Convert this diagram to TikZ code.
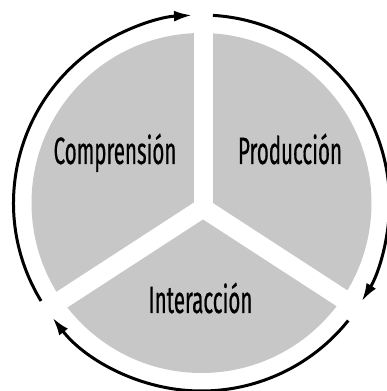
\documentclass[tikz,border=0pt]{standalone}
\usepackage{fontspec}
\setmainfont[FakeStretch=0.54,FakeBold=0.5]{Fira Sans}
\usetikzlibrary{arrows.meta}

\begin{document}
\begin{tikzpicture}[x=1pt,y=1pt]
\tikzstyle{sector}=[fill=black!22]
\tikzstyle{gap}=[white, line width=19pt]
\tikzstyle{cycle}=[line width=3pt, -{Latex[length=18pt,width=11pt]}]
\tikzstyle{skill}=[font=\fontsize{38}{38}\selectfont, anchor=base, inner sep=0pt]
\useasboundingbox (0,0) rectangle (386,391);
\coordinate (c) at (201.5,188);
\coordinate (y) at (203,183);
% circle split in three
\fill[sector] (c) circle (170);
\draw[gap] (y) -- ++(90:200);
\draw[gap] (y) -- ++(213:200);
\draw[gap] (y) -- ++(-33:200);
\node[skill] (compr) at (115,227) {Comprensión};
\node[skill] (prod) at (290,227) {Producción};
\node[skill] (inter) at (200.5,78) {Interacción};
% cycle arrows round it
\draw[cycle] ([shift={(211.4:188)}]c) arc[start angle=211.4, end angle=92.9, radius=188];
\draw[cycle] ([shift={(86.5:188)}]c) arc[start angle=86.5, end angle=-31.5, radius=188];
\draw[cycle] ([shift={(-38.7:188)}]c) arc[start angle=-38.7, end angle=-142.4, radius=188];
\end{tikzpicture}
\end{document}
